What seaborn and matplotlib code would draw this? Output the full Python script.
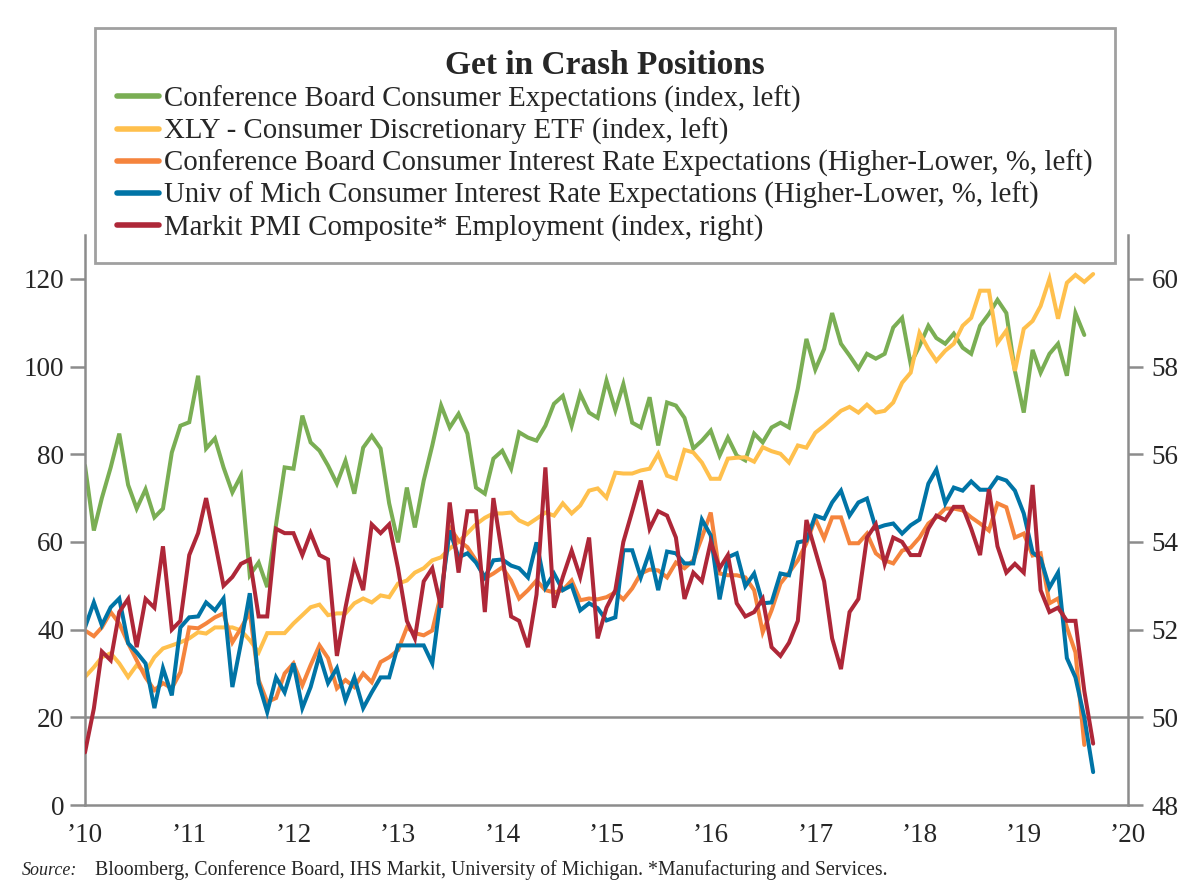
import matplotlib
matplotlib.use("Agg")
import matplotlib.pyplot as plt
import numpy as np
import pandas as pd
import seaborn as sns

# Ежемесячные данные, январь 2010 - сентябрь 2019
cb_expect = [77.4, 62.6, 70, 77, 84.7, 73, 67.6, 72, 65.6, 67.6, 80.4, 86.5,
             87.3, 97.9, 81.3, 83.6, 77, 71.3, 75.1, 52.4, 55.3, 49.7, 64, 77,
             76.7, 88.8, 82.7, 80.8, 77.4, 73.3, 78.5, 71, 81.5, 84.2, 81.3, 68.8,
             59.9, 72.4, 63.3, 74, 82, 91.1, 86.1, 89.2, 84.7, 72.4, 71, 79,
             80.8, 76.7, 85, 83.8, 83.1, 86.5, 91.5, 93.3, 86.5, 93.8, 89.5, 88.3,
             96.8, 90, 96, 87.2, 86.1, 93, 82, 91.8, 91.1, 88.3, 81.3, 83.1,
             85.4, 79.7, 83.8, 79.7, 78.6, 84.7, 82.7, 86.1, 87.2, 86.1, 95, 106.3,
             99.3, 104, 112.2, 105.2, 102.5, 99.5, 102.9, 101.8, 102.9, 108.9, 111.1, 100.6,
             104.7, 109.3, 106.5, 105.2, 107.5, 104.3, 102.9, 109.3, 112, 115.2, 112.2, 99,
             89.5, 103.8, 98.6, 102.9, 105.2, 97.9, 112.2, 107.2]

xly = [29.2, 31.4, 33.7, 34.6, 32.3, 29.2, 31.9, 30.3, 33.7, 35.7, 36.4, 37.1,
       38, 39.4, 39.1, 40.5, 40.5, 40.5, 39.8, 37.6, 34.8, 39.2, 39.2, 39.2,
       41.4, 43.3, 45.1, 45.7, 43.3, 43.7, 43.7, 46, 47.1, 46.2, 47.8, 47.4,
       50.5, 51.2, 53, 54, 55.8, 56.5, 58.5, 60, 62, 64, 65.5, 66.5,
       66.5, 66.7, 64.9, 64, 65.3, 66.7, 66, 68.8, 66.5, 68.3, 71.7, 72.2,
       70.1, 75.8, 75.6, 75.6, 76.3, 76.7, 80.1, 75.1, 74.4, 81, 80.4, 78.1,
       74.4, 74.4, 79, 79.2, 79.3, 78.3, 81.6, 80.7, 80.1, 78.1, 82, 81.5,
       84.9, 86.5, 88.1, 89.9, 90.8, 89.5, 91.3, 89.5, 89.9, 91.8, 96.3, 98.6,
       107.7, 104, 101.3, 103.6, 105.2, 109.3, 111.1, 117.3, 117.3, 105.4, 108.2, 99,
       108.6, 110.4, 113.8, 120, 110.9, 119.1, 120.9, 119.3, 121.1]

cb_rates = [39.8, 38.5, 40.5, 44, 41.4, 36.9, 33, 29.1, 26.2, 27.8, 26.6, 30.3,
            40.5, 40.3, 41.4, 42.8, 43.7, 37.1, 40.3, 44, 28.5, 23.5, 24.4, 30,
            32.3, 27.3, 31.9, 36.4, 33.5, 26.6, 28.5, 26.9, 30, 28, 32.6, 33.7,
            35.3, 40.5, 39.2, 38.7, 39.8, 48.3, 63.3, 60.3, 58.8, 55.8, 51.7, 52.8,
            54.2, 51.2, 47.1, 49, 51.2, 49, 48.5, 49, 51.2, 46.7, 47.1, 46.9,
            47.4, 48.5, 46.9, 49.4, 52.8, 53.7, 53.5, 51.9, 55.3, 54, 55.8, 61,
            66.7, 52.8, 52.4, 52.4, 51.9, 49, 39.4, 44.4, 50.5, 53, 55.8, 59.7,
            65.3, 60.8, 65.6, 65.6, 59.7, 59.7, 61.9, 57.4, 55.8, 55.1, 58, 58.7,
            61, 64.2, 65.6, 67.6, 67.6, 67.2, 65.6, 64.2, 62.6, 68.8, 67.9, 61,
            61.9, 56.9, 57.4, 46, 47.1, 40.5, 34.8, 13.7]

um_rates = [40.5, 46.2, 41, 45.1, 47.1, 36.9, 34.8, 32.3, 22.1, 31.2, 25, 40.5,
            42.8, 43, 46.2, 44.4, 47.1, 26.9, 36.9, 48.3, 27.8, 21.2, 29.1, 25.7,
            32.3, 22.1, 26.9, 34.2, 27.8, 31.2, 23.9, 29.1, 22.1, 25.7, 29.1, 29.1,
            36.4, 36.4, 36.4, 36.4, 32.3, 48, 62.6, 56.5, 57.4, 55.3, 51.9, 55.8,
            56, 54.6, 54, 51.9, 59.9, 49.6, 52.8, 49, 50.1, 44.4, 46, 44.9,
            42.1, 42.8, 58.1, 58.1, 51.9, 57.8, 49, 57.8, 57.4, 55.1, 55.1, 65.1,
            61.5, 46.9, 56.5, 57.4, 49.9, 52.8, 46, 46.2, 52.8, 52.4, 59.9, 60.3,
            66, 65.3, 69, 71.7, 66, 69, 69.9, 63.1, 63.8, 64.2, 61.9, 63.8,
            65.1, 73.3, 76.5, 68.8, 72.4, 71.7, 73.8, 71.9, 71.9, 74.7, 74, 71.7,
            66.5, 57.6, 56.2, 49.6, 53, 33.5, 29.1, 20, 7.5]

pmi_empl = [49.2, 50.2, 51.5, 51.3, 52.4, 52.7, 51.6, 52.7, 52.5, 53.9, 52.0, 52.2,
            53.7, 54.2, 55.0, 54.0, 53.0, 53.2, 53.5, 53.6, 52.3, 52.3, 54.3, 54.2,
            54.2, 53.7, 54.2, 53.7, 53.6, 51.4, 52.5, 53.5, 52.9, 54.4, 54.2, 54.4,
            53.4, 52.2, 51.8, 53.1, 53.4, 52.5, 54.9, 53.3, 54.7, 54.7, 52.4, 55.0,
            53.7, 52.3, 52.2, 51.6, 52.8, 55.7, 52.5, 53.2, 53.8, 53.2, 54.1, 51.8,
            52.5, 52.9, 54.0, 54.7, 55.4, 54.3, 54.7, 54.6, 54.1, 52.7, 53.3, 53.1,
            54.0, 53.4, 53.7, 52.6, 52.3, 52.4, 52.7, 51.6, 51.4, 51.7, 52.2, 54.5,
            53.8, 53.1, 51.8, 51.1, 52.4, 52.7, 54.1, 54.4, 53.5, 54.1, 54.0, 53.7,
            53.7, 54.3, 54.6, 54.5, 54.8, 54.8, 54.3, 53.7, 55.2, 53.9, 53.3, 53.5,
            53.3, 55.3, 52.9, 52.4, 52.5, 52.2, 52.2, 50.6, 49.4]

labels = ["Conference Board Consumer Expectations (index, left)",
          "XLY - Consumer Discretionary ETF (index, left)",
          "Conference Board Consumer Interest Rate Expectations (Higher-Lower, %, left)",
          "Univ of Mich Consumer Interest Rate Expectations (Higher-Lower, %, left)",
          "Markit PMI Composite* Employment (index, right)"]
colors = ["#7aae54", "#ffc04d", "#f5843d", "#0074a6", "#ae2738"]
year_labels = ["\u201910", "\u201911", "\u201912", "\u201913", "\u201914",
               "\u201915", "\u201916", "\u201917", "\u201918", "\u201919", "\u201920"]

dates = pd.date_range("2010-01-01", periods=117, freq="MS")

sns.set_style("white")
plt.rcParams["font.family"] = ["Liberation Serif", "DejaVu Serif"]
plt.rcParams["lines.solid_joinstyle"] = "miter"

fig = plt.figure(figsize=(12, 8.96), dpi=100)
ax = fig.add_axes([85 / 1200, 1 - 805 / 896, (1128 - 85) / 1200, (805 - 235) / 896])
ax2 = ax.twinx()

grey = "#8c8c8c"
ax.axhline(20, color=grey, lw=1.8, zorder=1)

left_series = [cb_expect, xly, cb_rates, um_rates]
for vals, lab, col in zip(left_series, labels[:4], colors[:4]):
    sns.lineplot(x=dates[:len(vals)], y=vals, ax=ax, color=col, lw=2.9, label=lab)
sns.lineplot(x=dates[:len(pmi_empl)], y=pmi_empl, ax=ax2, color=colors[4], lw=2.9,
             label=labels[4])

handles = ax.get_legend_handles_labels()[0] + ax2.get_legend_handles_labels()[0]
for a in (ax, ax2):
    if a.get_legend() is not None:
        a.get_legend().remove()

ax.set_ylim(0, 130)
ax2.set_ylim(48, 61)
ax.set_yticks(range(0, 121, 20))
ax2.set_yticks(range(48, 61, 2))
ticks = pd.date_range("2010-01-01", "2020-01-01", freq="YS")
ax.set_xlim(ticks[0], ticks[-1])
ax.set_xticks(ticks)
ax.set_xticklabels(year_labels)
ax.set_xlabel("")
ax.set_ylabel("")
ax2.set_ylabel("")

for a in (ax, ax2):
    for s in a.spines.values():
        s.set_visible(False)
ax.spines["left"].set_visible(True)
ax.spines["bottom"].set_visible(True)
ax2.spines["right"].set_visible(True)
for s in (ax.spines["left"], ax.spines["bottom"], ax2.spines["right"]):
    s.set_color(grey)
    s.set_linewidth(1.8)

ax.tick_params(axis="y", length=11, width=1.8, color=grey, labelsize=19.5, pad=4, left=True)
ax.tick_params(axis="x", length=0, labelsize=19.5, pad=13)
ax2.tick_params(axis="y", length=11, width=1.8, color=grey, labelsize=19.5, pad=6, right=True)

# рамка легенды: x 95..1115, y 28..258 пикселей
leg = fig.legend(handles, labels, loc="upper left",
                 bbox_to_anchor=(95 / 1200, 1 - 258 / 896, (1115 - 95) / 1200, 230 / 896),
                 mode="expand", borderaxespad=0, frameon=True, fancybox=False,
                 edgecolor="#a0a0a0", framealpha=1, fontsize=20.8,
                 handlelength=1.45, handletextpad=0.2, labelspacing=0.17,
                 borderpad=0.75, title="Get in Crash Positions",
                 title_fontproperties={"weight": "bold", "size": 24})
leg.get_frame().set_linewidth(2)
for h in leg.legend_handles:
    h.set_linewidth(4)

fig.text(22 / 1200, 1 - 870 / 896, "Source:", fontsize=13, style="italic", va="center")
fig.text(95 / 1200, 1 - 870 / 896,
         "Bloomberg, Conference Board, IHS Markit, University of Michigan. *Manufacturing and Services.",
         fontsize=14.3, va="center")

fig.savefig("out.png", dpi=100)
